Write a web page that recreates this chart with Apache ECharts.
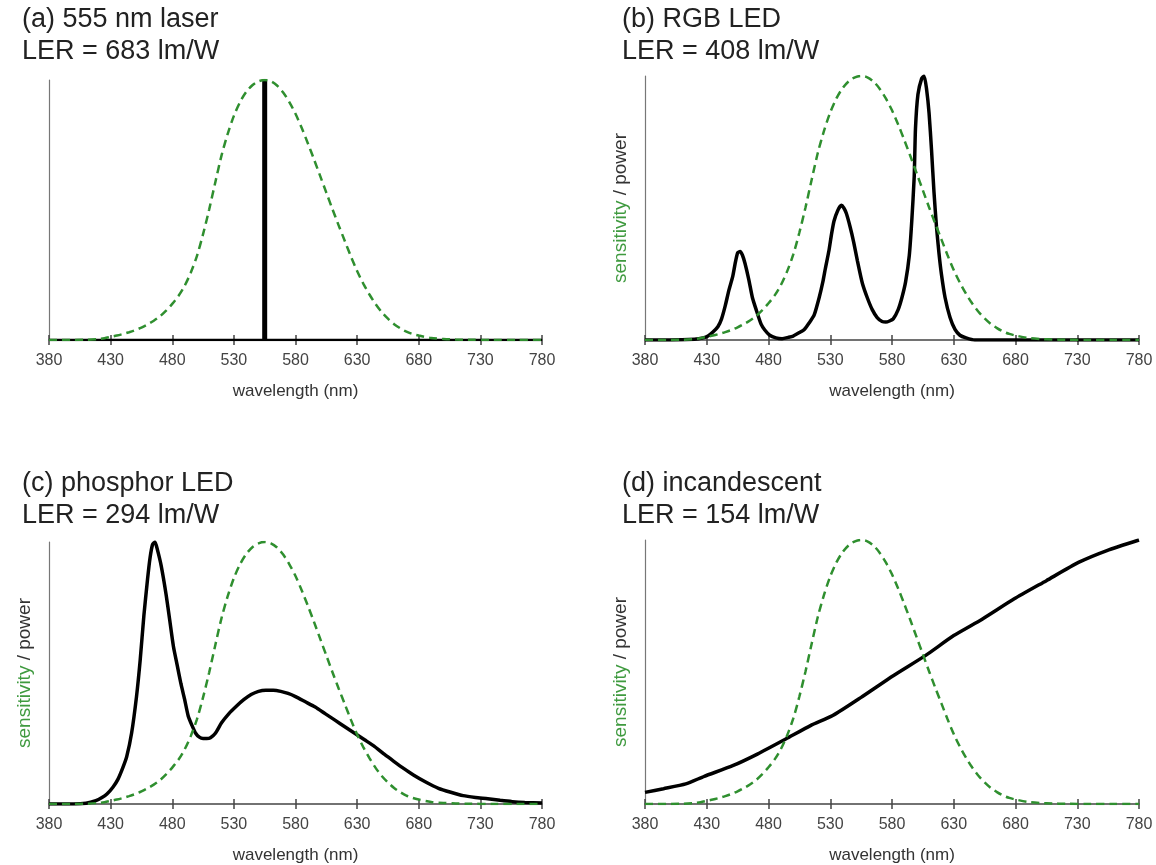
<!DOCTYPE html>
<html>
<head>
<meta charset="utf-8">
<script src="https://cdn.jsdelivr.net/npm/echarts@6/dist/echarts.min.js"></script>
<style>
html,body{margin:0;padding:0;background:#fff;}
#chart{width:1156px;height:865px;}
</style>
</head>
<body>
<div id="chart"></div>
<script>
// ---- data ----
var panelTitles = ['(a) 555 nm laser\nLER = 683 lm/W', '(b) RGB LED\nLER = 408 lm/W', '(c) phosphor LED\nLER = 294 lm/W', '(d) incandescent\nLER = 154 lm/W'];
var xTicks = [380, 430, 480, 530, 580, 630, 680, 730, 780];
var xAxisName = 'wavelength (nm)';

// eye sensitivity (green dashed), wavelength / relative value
var sensWl = [380,390,400,410,420,425,430,435,440,445,450,455,460,465,470,475,480,485,490,495,500,505,510,515,520,525,530,535,540,545,550,555,560,565,570,575,580,585,590,595,600,605,610,615,620,625,630,635,640,645,650,655,660,665,670,675,680,690,700,710,720,740,760,780];
var sensVal = [0.000,0.000,0.000,0.001,0.004,0.007,0.012,0.017,0.023,0.030,0.038,0.048,0.060,0.074,0.091,0.113,0.139,0.169,0.208,0.259,0.323,0.407,0.503,0.608,0.710,0.793,0.862,0.915,0.954,0.980,0.995,1.000,0.995,0.979,0.952,0.915,0.870,0.816,0.757,0.695,0.631,0.567,0.503,0.441,0.381,0.321,0.265,0.217,0.175,0.138,0.107,0.082,0.061,0.045,0.032,0.023,0.017,0.008,0.004,0.002,0.001,0.000,0.000,0.000];

// (a) laser spectrum
var laserWl = [380, 555, 555, 555, 780];
var laserVal = [0, 0, 1, 0, 0];

// (b) RGB LED spectrum
var rgbWl = [380,400,420,427,431,435,439,442,445,448,451,453,455,457,459,461,464,467,470,474,477,481,486,491,496,500,505,509,513,517,521,524,526,529,531,533,536,539,541,543,546,549,552,556,560,564,568,572,575,578,581,585,588,591,594,596,598,599,601,604,606,608,610,612,614,616,618,620,623,627,631,635,640,647,660,700,780];
var rgbVal = [0,0,0.003,0.008,0.015,0.03,0.05,0.08,0.13,0.19,0.24,0.29,0.33,0.335,0.32,0.29,0.23,0.16,0.115,0.06,0.038,0.018,0.008,0.005,0.01,0.015,0.028,0.04,0.065,0.095,0.16,0.22,0.27,0.34,0.40,0.45,0.49,0.51,0.50,0.48,0.43,0.37,0.30,0.215,0.16,0.115,0.085,0.07,0.068,0.072,0.08,0.115,0.16,0.22,0.32,0.45,0.62,0.80,0.93,0.99,1.0,0.95,0.86,0.72,0.56,0.43,0.33,0.25,0.16,0.085,0.04,0.018,0.008,0,0,0,0];

// (c) phosphor LED spectrum
var phosWl = [380,400,410,418,423,427,432,436,440,443,447,451,454,457,460,462,464,466,468,471,475,478,481,484,487,490,493,496,499,502,505,508,511,515,520,526,532,538,544,550,556,562,568,574,580,588,596,604,612,620,628,636,644,652,660,668,676,686,696,706,716,726,736,746,756,766,780];
var phosVal = [0,0,0.003,0.013,0.025,0.038,0.065,0.095,0.14,0.18,0.27,0.41,0.55,0.72,0.86,0.94,0.99,1.0,0.97,0.91,0.80,0.70,0.60,0.53,0.46,0.40,0.335,0.30,0.27,0.255,0.25,0.25,0.253,0.27,0.31,0.345,0.373,0.398,0.418,0.43,0.434,0.434,0.43,0.422,0.41,0.39,0.37,0.345,0.32,0.295,0.27,0.245,0.22,0.19,0.162,0.135,0.11,0.083,0.06,0.045,0.032,0.025,0.02,0.014,0.009,0.006,0.004];

// (d) incandescent spectrum
var incWl = [380,395,413,428,451,471,494,514,532,555,581,607,630,653,679,705,731,754,780];
var incVal = [0.044,0.058,0.076,0.105,0.145,0.189,0.246,0.297,0.335,0.404,0.486,0.562,0.638,0.70,0.777,0.846,0.915,0.96,1.0];

function pairs(xs, ys) { return xs.map(function (x, i) { return [x, ys[i]]; }); }

var FONT = 'Liberation Sans, Arial, sans-serif';
var GREEN = '#2f8f2f';
var GRID_LAYOUT = [
  {left: 49, top: 80, width: 493, height: 260},
  {left: 645, top: 76, width: 494, height: 264},
  {left: 49, top: 542, width: 493, height: 264},
  {left: 645, top: 540, width: 494, height: 266}
];
var TITLE_POS = [
  {left: 22, top: 4}, {left: 622, top: 4}, {left: 22, top: 468}, {left: 622, top: 468}
];
var spectra = [
  {xs: laserWl, ys: laserVal},
  {xs: rgbWl, ys: rgbVal},
  {xs: phosWl, ys: phosVal},
  {xs: incWl, ys: incVal}
];

var option = {
  backgroundColor: '#fff',
  animation: false,
  title: [], grid: [], xAxis: [], yAxis: [], series: []
};

for (var i = 0; i < 4; i++) {
  option.title.push({
    text: panelTitles[i], left: TITLE_POS[i].left, top: TITLE_POS[i].top, padding: 0,
    textStyle: {fontFamily: FONT, fontSize: 27, fontWeight: 'normal', color: '#222', lineHeight: 32}
  });
  option.grid.push(Object.assign({containLabel: false}, GRID_LAYOUT[i]));
  // main labelled x axis (ticks outward)
  option.xAxis.push({
    type: 'value', gridIndex: i, min: 380, max: 780, interval: 50, position: 'bottom',
    name: xAxisName, nameLocation: 'middle', nameGap: 43,
    nameTextStyle: {fontFamily: FONT, fontSize: 17, color: '#333'},
    axisLine: {show: true, lineStyle: {color: '#444', width: 1.5}},
    axisTick: {show: true, length: 5, lineStyle: {color: '#444', width: 1.5}},
    axisLabel: {fontFamily: FONT, fontSize: 16, color: '#444', margin: 13},
    splitLine: {show: false}
  });
  // companion axis: inward ticks so the marks cross the line
  option.xAxis.push({
    type: 'value', gridIndex: i, min: 380, max: 780, interval: 50, position: 'bottom', offset: 0,
    axisLine: {show: false},
    axisTick: {show: true, inside: true, length: 5, lineStyle: {color: '#444', width: 1.5}},
    axisLabel: {show: false}, splitLine: {show: false}
  });
  option.yAxis.push({
    type: 'value', gridIndex: i, min: 0, max: 1,
    name: i === 0 ? '' : '{g|sensitivity} {k|/ power}',
    nameLocation: 'middle', nameRotate: 90, nameGap: 15,
    nameTextStyle: {fontFamily: FONT, fontSize: 19,
      rich: {g: {color: '#3f9a3f', fontSize: 19, fontFamily: FONT},
             k: {color: '#333', fontSize: 19, fontFamily: FONT}}},
    axisLine: {show: true, lineStyle: {color: '#777', width: 1.2}},
    axisTick: {show: false}, axisLabel: {show: false}, splitLine: {show: false}
  });
  var sp = spectra[i];
  if (i === 0) {
    option.series.push({
      type: 'line', xAxisIndex: 0, yAxisIndex: 0, data: pairs(sp.xs, sp.ys),
      showSymbol: false, symbol: 'none', lineStyle: {color: '#000', width: 2.5}, z: 3
    });
    option.series.push({
      type: 'line', xAxisIndex: 0, yAxisIndex: 0, data: pairs([555, 555], [0, 1]),
      showSymbol: false, symbol: 'none', lineStyle: {color: '#000', width: 5, cap: 'butt'}, z: 3
    });
  } else {
    option.series.push({
      type: 'line', xAxisIndex: i * 2, yAxisIndex: i, data: pairs(sp.xs, sp.ys),
      showSymbol: false, symbol: 'none', smooth: 0.2, lineStyle: {color: '#000', width: 3.5}, z: 3
    });
  }
  option.series.push({
    type: 'line', xAxisIndex: i * 2, yAxisIndex: i, data: pairs(sensWl, sensVal),
    showSymbol: false, symbol: 'none', smooth: 0.3,
    lineStyle: {color: GREEN, width: 2.5, type: [8, 5]}, z: 4
  });
}

var chart = echarts.init(document.getElementById('chart'), null, {renderer: 'canvas'});
chart.setOption(option);
</script>
</body>
</html>
